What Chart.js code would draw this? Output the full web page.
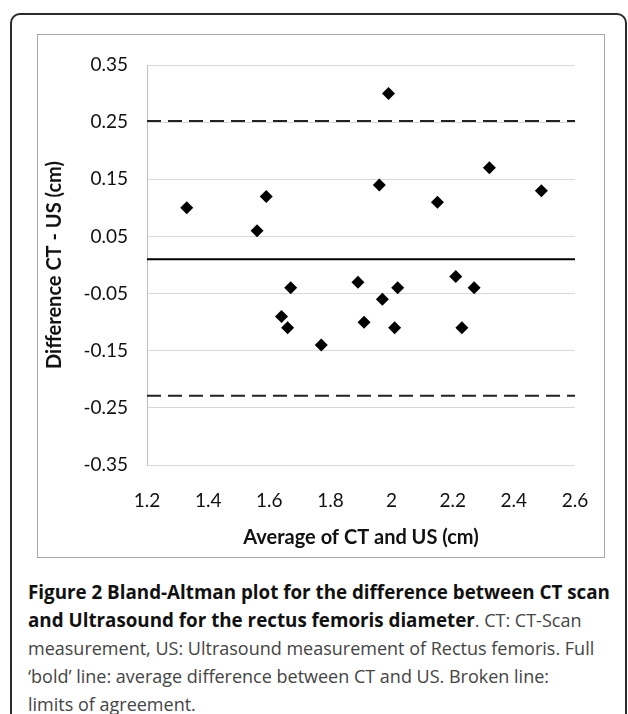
<!DOCTYPE html>
<html>
<head>
<meta charset="utf-8">
<script src="https://cdn.jsdelivr.net/npm/chart.js@4.4.1/dist/chart.umd.min.js"></script>
<style>
  body { margin: 0; background: #fff; width: 628px; height: 714px; overflow: hidden; position: relative; }
  .outer { position: absolute; left: 10px; top: 13px; width: 613px; height: 710px;
           border: 2px solid #2a2a2a; border-radius: 10px; }
  .frame { position: absolute; left: 37px; top: 34px; width: 566px; height: 522px;
           border: 1px solid #a6a6a6; }
  .caption { position: absolute; left: 28px; top: 578px; font-family: "Open Sans", sans-serif;
             font-size: 18px; line-height: 28px; color: #444; white-space: nowrap; }
  .caption b { color: #111; font-size: 18.8px; }
</style>
</head>
<body>
<div class="outer"></div>
<div class="frame"><canvas id="plot" width="566" height="522"></canvas></div>
<div class="caption">
  <b>Figure 2 Bland-Altman plot for the difference between CT scan<br>
  and Ultrasound for the rectus femoris diameter</b>. CT: CT-Scan<br>
  measurement, US: Ultrasound measurement of Rectus femoris. Full<br>
  ‘bold’ line: average difference between CT and US. Broken line:<br>
  limits of agreement.
</div>
<script>
// average of CT and US (cm)
const avgValues = [1.33, 1.56, 1.59, 1.64, 1.66, 1.67, 1.77, 1.89, 1.91, 1.96,
                   1.97, 1.99, 2.01, 2.02, 2.15, 2.21, 2.23, 2.27, 2.32, 2.49];
// difference CT - US (cm)
const diffValues = [0.10, 0.06, 0.12, -0.09, -0.11, -0.04, -0.14, -0.03, -0.10, 0.14,
                    -0.06, 0.30, -0.11, -0.04, 0.11, -0.02, -0.11, -0.04, 0.17, 0.13];

const meanDiff = 0.01;
const upperLimit = 0.252;
const lowerLimit = -0.229;

const xTickValues = [1.2, 1.4, 1.6, 1.8, 2.0, 2.2, 2.4, 2.6];
const yTickValues = [-0.35, -0.25, -0.15, -0.05, 0.05, 0.15, 0.25, 0.35];

const xMin = xTickValues[0];
const xMax = xTickValues[xTickValues.length - 1];

function hLine(y) {
    return [{x: xMin, y: y}, {x: xMax, y: y}];
}

const ctx = document.getElementById('plot').getContext('2d');

new Chart(ctx, {
    type: 'scatter',
    data: {
        datasets: [
            {
                label: 'Difference',
                data: avgValues.map((v, i) => ({x: v, y: diffValues[i]})),
                pointStyle: 'rectRot',
                pointRadius: 6.5,
                backgroundColor: '#000',
                borderColor: '#000',
                borderWidth: 0,
                order: 0
            },
            {
                label: 'Mean',
                type: 'line',
                data: hLine(meanDiff),
                borderColor: '#000',
                borderWidth: 2,
                pointRadius: 0,
                order: 1
            },
            {
                label: 'Upper limit',
                type: 'line',
                data: hLine(upperLimit),
                borderColor: '#222',
                borderWidth: 2,
                borderDash: [14, 7],
                pointRadius: 0,
                order: 1
            },
            {
                label: 'Lower limit',
                type: 'line',
                data: hLine(lowerLimit),
                borderColor: '#222',
                borderWidth: 2,
                borderDash: [14, 7],
                pointRadius: 0,
                order: 1
            }
        ]
    },
    options: {
        responsive: false,
        animation: false,
        layout: { padding: { top: 30, right: 29, left: 0, bottom: 0 } },
        plugins: { legend: { display: false }, tooltip: { enabled: false } },
        scales: {
            x: {
                type: 'linear',
                min: xMin,
                max: xMax,
                afterBuildTicks: scale => { scale.ticks = xTickValues.map(v => ({value: v})); },
                afterFit: scale => {
                    // fixed band under the plot, no extra room for label overhang
                    scale.height = 92;
                    scale.paddingLeft = 0;
                    scale.paddingRight = 0;
                },
                grid: { display: false, drawTicks: false },
                border: { display: false },
                ticks: {
                    padding: 24,
                    color: '#111',
                    font: { family: 'Lato', size: 19 },
                    callback: v => String(Math.round(v * 10) / 10)
                },
                title: {
                    display: true,
                    text: 'Average of CT and US (cm)',
                    color: '#111',
                    font: { family: 'Lato', size: 20, weight: 'bold' },
                    padding: { top: 4, bottom: 7 }
                }
            },
            y: {
                type: 'linear',
                min: yTickValues[0],
                max: yTickValues[yTickValues.length - 1],
                afterBuildTicks: scale => { scale.ticks = yTickValues.map(v => ({value: v})); },
                afterFit: scale => {
                    scale.width = 109;
                    scale.paddingTop = 0;
                    scale.paddingBottom = 0;
                },
                grid: { color: '#d9d9d9', lineWidth: 1, drawTicks: false },
                border: { display: true, color: '#bfbfbf', width: 1 },
                ticks: {
                    padding: 19,
                    color: '#111',
                    font: { family: 'Lato', size: 19 },
                    callback: v => v.toFixed(2)
                },
                title: {
                    display: true,
                    text: 'Difference CT - US (cm)',
                    color: '#111',
                    font: { family: 'Lato', size: 20, weight: 'bold' },
                    padding: { top: 5, bottom: 4 }
                }
            }
        }
    }
});
</script>
</body>
</html>
